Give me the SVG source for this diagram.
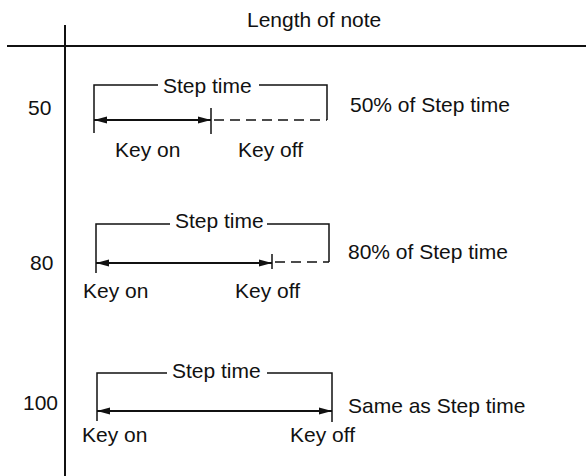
<svg xmlns="http://www.w3.org/2000/svg" width="586" height="476" viewBox="0 0 586 476">
<style>
text{font-family:"Liberation Sans",Arial,sans-serif;font-size:21px;fill:#111}
.ln{stroke:#111;stroke-width:1.5;fill:none}
.ax{stroke:#111;stroke-width:2;fill:none}
.arr{stroke:#111;stroke-width:2.2;fill:none;marker-start:url(#ah);marker-end:url(#ah)}
.dash{stroke:#111;stroke-width:1.5;fill:none;stroke-dasharray:10 6}
</style>
<defs>
<marker id="ah" markerUnits="userSpaceOnUse" markerWidth="14" markerHeight="10" refX="13" refY="5" orient="auto-start-reverse">
<path d="M0,1.5 L13,5 L0,8.5 Z" fill="#111"/>
</marker>
</defs>
<g id="axes">
<line class="ax" x1="65" y1="25" x2="65" y2="476"/>
<line class="ax" x1="7" y1="46" x2="586" y2="46"/>
<text x="247" y="27">Length of note</text>
</g>
<g id="row50">
<text x="28" y="115">50</text>
<path class="ln" d="M94,133 V85 H158 M259,85 H327 V120"/>
<text x="163" y="93">Step time</text>
<line class="ln" x1="211" y1="108" x2="211" y2="134"/>
<line class="dash" x1="214" y1="120" x2="327" y2="120"/>
<text x="350" y="112">50% of Step time</text>
<text x="115" y="157">Key on</text>
<text x="238" y="157">Key off</text>
</g>
<g id="row80">
<text x="30" y="270">80</text>
<path class="ln" d="M96,273 V224 H170 M267,224 H329 V262"/>
<text x="175" y="228">Step time</text>
<line class="ln" x1="272" y1="254" x2="272" y2="269"/>
<line class="dash" x1="275" y1="262" x2="329" y2="262"/>
<text x="348" y="259">80% of Step time</text>
<text x="83" y="298">Key on</text>
<text x="235" y="298">Key off</text>
</g>
<g id="row100">
<text x="23" y="410">100</text>
<path class="ln" d="M97,421 V373 H167 M267,373 H332 V422"/>
<text x="172" y="378">Step time</text>
<text x="348" y="413">Same as Step time</text>
<text x="82" y="442">Key on</text>
<text x="290" y="442">Key off</text>
</g>
<g id="connectors">
<line class="arr" x1="94" y1="120" x2="211" y2="120"/>
<line class="arr" x1="96" y1="263" x2="272" y2="263"/>
<line class="arr" x1="97" y1="411" x2="332" y2="411"/>
</g>
</svg>
